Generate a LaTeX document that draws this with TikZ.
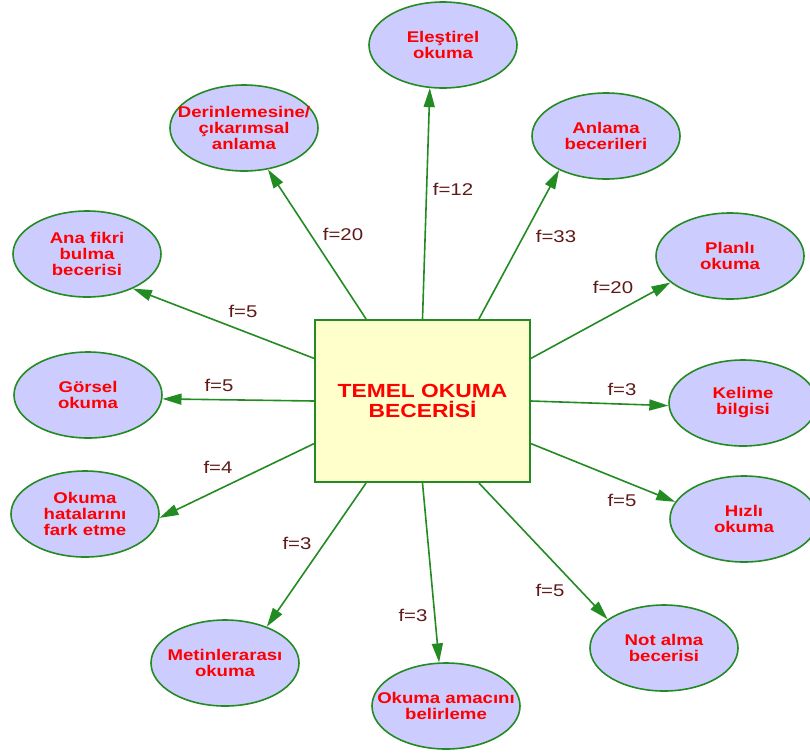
\documentclass[tikz,border=0pt]{standalone}
\usepackage{fontspec}
\setmainfont{Liberation Sans}[FakeStretch=1.2]
\usetikzlibrary{shapes.geometric,arrows.meta,calc}
\definecolor{edgegreen}{RGB}{34,139,34}
\definecolor{bubblefill}{RGB}{204,204,255}
\definecolor{boxfill}{RGB}{255,255,204}
\definecolor{freqcol}{RGB}{95,25,25}
\begin{document}
\begin{tikzpicture}[x=1pt,y=-1pt,
  bub/.style={ellipse, draw=edgegreen, line width=1.6pt, fill=bubblefill,
    minimum width=148pt, minimum height=86pt, inner sep=0pt},
  btxt/.style={text=red, font=\fontsize{15.5}{16}\selectfont\bfseries,
    align=center, inner sep=0pt},
  core/.style={draw=edgegreen, line width=2pt, fill=boxfill,
    minimum width=215pt, minimum height=162pt, inner sep=0pt, text=red,
    font=\fontsize{19}{20}\selectfont\bfseries, align=center},
  link/.style={draw=edgegreen, line width=1.6pt,
    -{Triangle[length=19pt,width=11pt]}},
  freq/.style={text=freqcol, font=\fontsize{17}{17}\selectfont, inner sep=0pt}]
\useasboundingbox (0,0) rectangle (810,755);

% central concept
\node[core] (c0) at (422.5,401) {TEMEL OKUMA\\BECER\.{I}S\.{I}};

% surrounding skills
\node[bub] (e1)  at (443,45)  {}; \node[btxt] (e1t)  at (e1)  {Eleştirel\\okuma};
\node[bub] (e2)  at (244,128) {}; \node[btxt] (e2t)  at (e2)  {Derinlemesine/\\çıkarımsal\\anlama};
\node[bub] (e3)  at (606,136) {}; \node[btxt] (e3t)  at (e3)  {Anlama\\becerileri};
\node[bub] (e4)  at (87,254)  {}; \node[btxt] (e4t)  at (e4)  {Ana fikri\\bulma\\becerisi};
\node[bub] (e5)  at (730,256) {}; \node[btxt] (e5t)  at (e5)  {Planlı\\okuma};
\node[bub] (e6)  at (88,395)  {}; \node[btxt] (e6t)  at (e6)  {Görsel\\okuma};
\node[bub] (e7)  at (743,403) {}; \node[btxt] (e7t)  at (e7)  {Kelime\\bilgisi};
\node[bub] (e8)  at (85,514)  {}; \node[btxt] (e8t)  at (e8)  {Okuma\\hatalarını\\fark etme};
\node[bub] (e9)  at (744,519) {}; \node[btxt] (e9t)  at (e9)  {Hızlı\\okuma};
\node[bub] (e10) at (225,663) {}; \node[btxt] (e10t) at (e10) {Metinlerarası\\okuma};
\node[bub] (e11) at (446,706) {}; \node[btxt] (e11t) at (e11) {Okuma amacını\\belirleme};
\node[bub] (e12) at (664,648) {}; \node[btxt] (e12t) at (e12) {Not alma\\becerisi};

% start points on the box border
\coordinate (sN1) at ($(c0.north west)!0.24!(c0.north east)$);
\coordinate (sN2) at ($(c0.north west)!0.50!(c0.north east)$);
\coordinate (sN3) at ($(c0.north west)!0.76!(c0.north east)$);
\coordinate (sW1) at ($(c0.north west)!0.24!(c0.south west)$);
\coordinate (sW2) at ($(c0.north west)!0.50!(c0.south west)$);
\coordinate (sW3) at ($(c0.north west)!0.76!(c0.south west)$);
\coordinate (sE1) at ($(c0.north east)!0.24!(c0.south east)$);
\coordinate (sE2) at ($(c0.north east)!0.50!(c0.south east)$);
\coordinate (sE3) at ($(c0.north east)!0.76!(c0.south east)$);
\coordinate (sS1) at ($(c0.south west)!0.24!(c0.south east)$);
\coordinate (sS2) at ($(c0.south west)!0.50!(c0.south east)$);
\coordinate (sS3) at ($(c0.south west)!0.76!(c0.south east)$);

% connectors
\draw[link] (sN2) -- (e1.253);
\draw[link] (sN1) -- (e2.300);
\draw[link] (sN3) -- (e3.216);
\draw[link] (sW1) -- (e4.323);
\draw[link] (sE1) -- (e5.204);
\draw[link] (sW2) -- (e6.357);
\draw[link] (sE2) -- (e7.182);
\draw[link] (sW3) -- (e8.357);
\draw[link] (sE3) -- (e9.166);
\draw[link] (sS1) -- (e10.41);
\draw[link] (sS2) -- (e11.99);
\draw[link] (sS3) -- (e12.153);

% frequencies
\node[freq] (f1)  at (453,189) {f=12};
\node[freq] (f2)  at (343,234) {f=20};
\node[freq] (f3)  at (556,236) {f=33};
\node[freq] (f4)  at (243,311) {f=5};
\node[freq] (f5)  at (613,287) {f=20};
\node[freq] (f6)  at (219,385) {f=5};
\node[freq] (f7)  at (622,389) {f=3};
\node[freq] (f8)  at (218,467) {f=4};
\node[freq] (f9)  at (622,500) {f=5};
\node[freq] (f10) at (297,543) {f=3};
\node[freq] (f11) at (413,615) {f=3};
\node[freq] (f12) at (550,590) {f=5};
\end{tikzpicture}
\end{document}
